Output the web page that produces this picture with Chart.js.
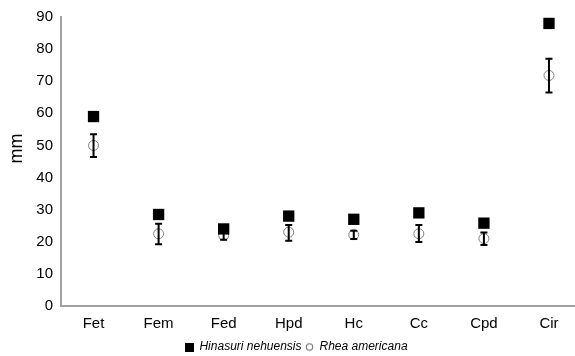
<!DOCTYPE html>
<html lang="en">
<head>
  <meta charset="UTF-8" />
  <title>Hinasuri vs Rhea</title>
  <script src="https://cdn.jsdelivr.net/npm/chart.js"></script>
  <style>
    html, body { margin: 0; padding: 0; background: #fff; }
    #wrap { width: 575px; height: 356px; }
  </style>
</head>
<body>
  <div id="wrap"><canvas id="chart"></canvas></div>

  <script>
    // measurements (mm)
    const categories = ['Fet', 'Fem', 'Fed', 'Hpd', 'Hc', 'Cc', 'Cpd', 'Cir'];
    const hinasuri = [59, 28.5, 24, 28, 27, 29, 25.8, 88];
    const rheaMean = [50, 22.5, 22, 23, 22.2, 22.5, 21, 71.8];
    const rheaLow  = [46.4, 19.2, 20.6, 20.3, 20.9, 19.9, 19, 66.5];
    const rheaHigh = [53.5, 25.6, 23.5, 25.2, 23.4, 25.2, 22.9, 77];
    const yTicks = [0, 10, 20, 30, 40, 50, 60, 70, 80, 90];

    const FONT = 'Liberation Sans, Arial, sans-serif';

    // small legend markers (the legend symbols are smaller than the plot ones)
    function marker(kind) {
      const c = document.createElement('canvas');
      c.width = 9; c.height = 9;
      const g = c.getContext('2d');
      if (kind === 'rect') {
        g.fillStyle = '#000';
        g.fillRect(0, 0, 9, 9);
      } else {
        g.strokeStyle = '#555';
        g.lineWidth = 1;
        g.beginPath();
        g.arc(4.5, 4.5, 3.3, 0, Math.PI * 2);
        g.stroke();
      }
      return c;
    }
    const legendMarks = [marker('rect'), marker('circle')];

    // error bars for Rhea americana
    const errorBars = {
      id: 'errorBars',
      afterDatasetsDraw(chart) {
        const { ctx, scales: { x, y } } = chart;
        ctx.save();
        ctx.strokeStyle = '#000';
        ctx.lineWidth = 2;
        rheaLow.forEach((lo, i) => {
          const px = x.getPixelForValue(i);
          const top = y.getPixelForValue(rheaHigh[i]);
          const bot = y.getPixelForValue(lo);
          ctx.beginPath();
          ctx.moveTo(px, top); ctx.lineTo(px, bot);
          ctx.moveTo(px - 3.5, top); ctx.lineTo(px + 3.5, top);
          ctx.moveTo(px - 3.5, bot); ctx.lineTo(px + 3.5, bot);
          ctx.stroke();
        });
        ctx.restore();
      }
    };

    // y title sits a bit above the axis middle in the original; legend a bit right of centre
    const tweaks = {
      id: 'tweaks',
      afterLayout(chart) {
        chart.legend.left += 9;
        chart.legend.right += 9;
      },
      afterDraw(chart) {
        const { ctx, chartArea } = chart;
        ctx.save();
        ctx.translate(17, (chartArea.top + chartArea.bottom) / 2 - 13);
        ctx.rotate(-Math.PI / 2);
        ctx.fillStyle = '#000';
        ctx.font = '18px ' + FONT;
        ctx.textAlign = 'center';
        ctx.textBaseline = 'middle';
        ctx.fillText('mm', 0, 0);
        ctx.restore();
      }
    };

    new Chart(document.getElementById('chart'), {
      type: 'scatter',
      data: {
        datasets: [{
          label: 'Hinasuri nehuensis',
          data: hinasuri.map((v, i) => ({ x: i, y: v })),
          pointStyle: 'rect',
          pointRadius: 8,
          backgroundColor: '#000',
          borderColor: '#000',
          borderWidth: 0
        }, {
          label: 'Rhea americana',
          data: rheaMean.map((v, i) => ({ x: i, y: v })),
          pointStyle: 'circle',
          pointRadius: 5,
          backgroundColor: 'rgba(255,255,255,0)',
          borderColor: '#808080',
          borderWidth: 1
        }]
      },
      options: {
        responsive: true,
        maintainAspectRatio: false,
        animation: false,
        layout: { autoPadding: false, padding: { top: 17, right: 0, left: 0, bottom: -7 } },
        plugins: {
          tooltip: { enabled: false },
          legend: {
            position: 'bottom',
            labels: {
              usePointStyle: true,
              boxWidth: 8,
              boxHeight: 8,
              padding: 4,
              color: '#000',
              font: { family: FONT, size: 12, style: 'italic' },
              generateLabels(chart) {
                const items = Chart.defaults.plugins.legend.labels.generateLabels(chart);
                items.forEach((it, i) => { it.pointStyle = legendMarks[i]; });
                return items;
              }
            }
          }
        },
        scales: {
          x: {
            type: 'linear',
            min: -0.5,
            max: 7.4,
            grid: { display: false, drawTicks: false },
            border: { color: '#a0a0a0', width: 2 },
            afterBuildTicks: s => { s.ticks = categories.map((c, i) => ({ value: i })); },
            afterFit: s => { s.height = 31; },
            ticks: {
              padding: 9,
              color: '#000',
              font: { family: FONT, size: 15 },
              callback: v => categories[v]
            }
          },
          y: {
            min: 0,
            max: 90,
            grid: { display: false, drawTicks: false },
            border: { color: '#a0a0a0', width: 2 },
            afterBuildTicks: s => { s.ticks = yTicks.map(v => ({ value: v })); },
            afterFit: s => { s.width = 61; },
            ticks: {
              padding: 8,
              color: '#000',
              font: { family: FONT, size: 15 }
            }
          }
        }
      },
      plugins: [errorBars, tweaks]
    });
  </script>
</body>
</html>
